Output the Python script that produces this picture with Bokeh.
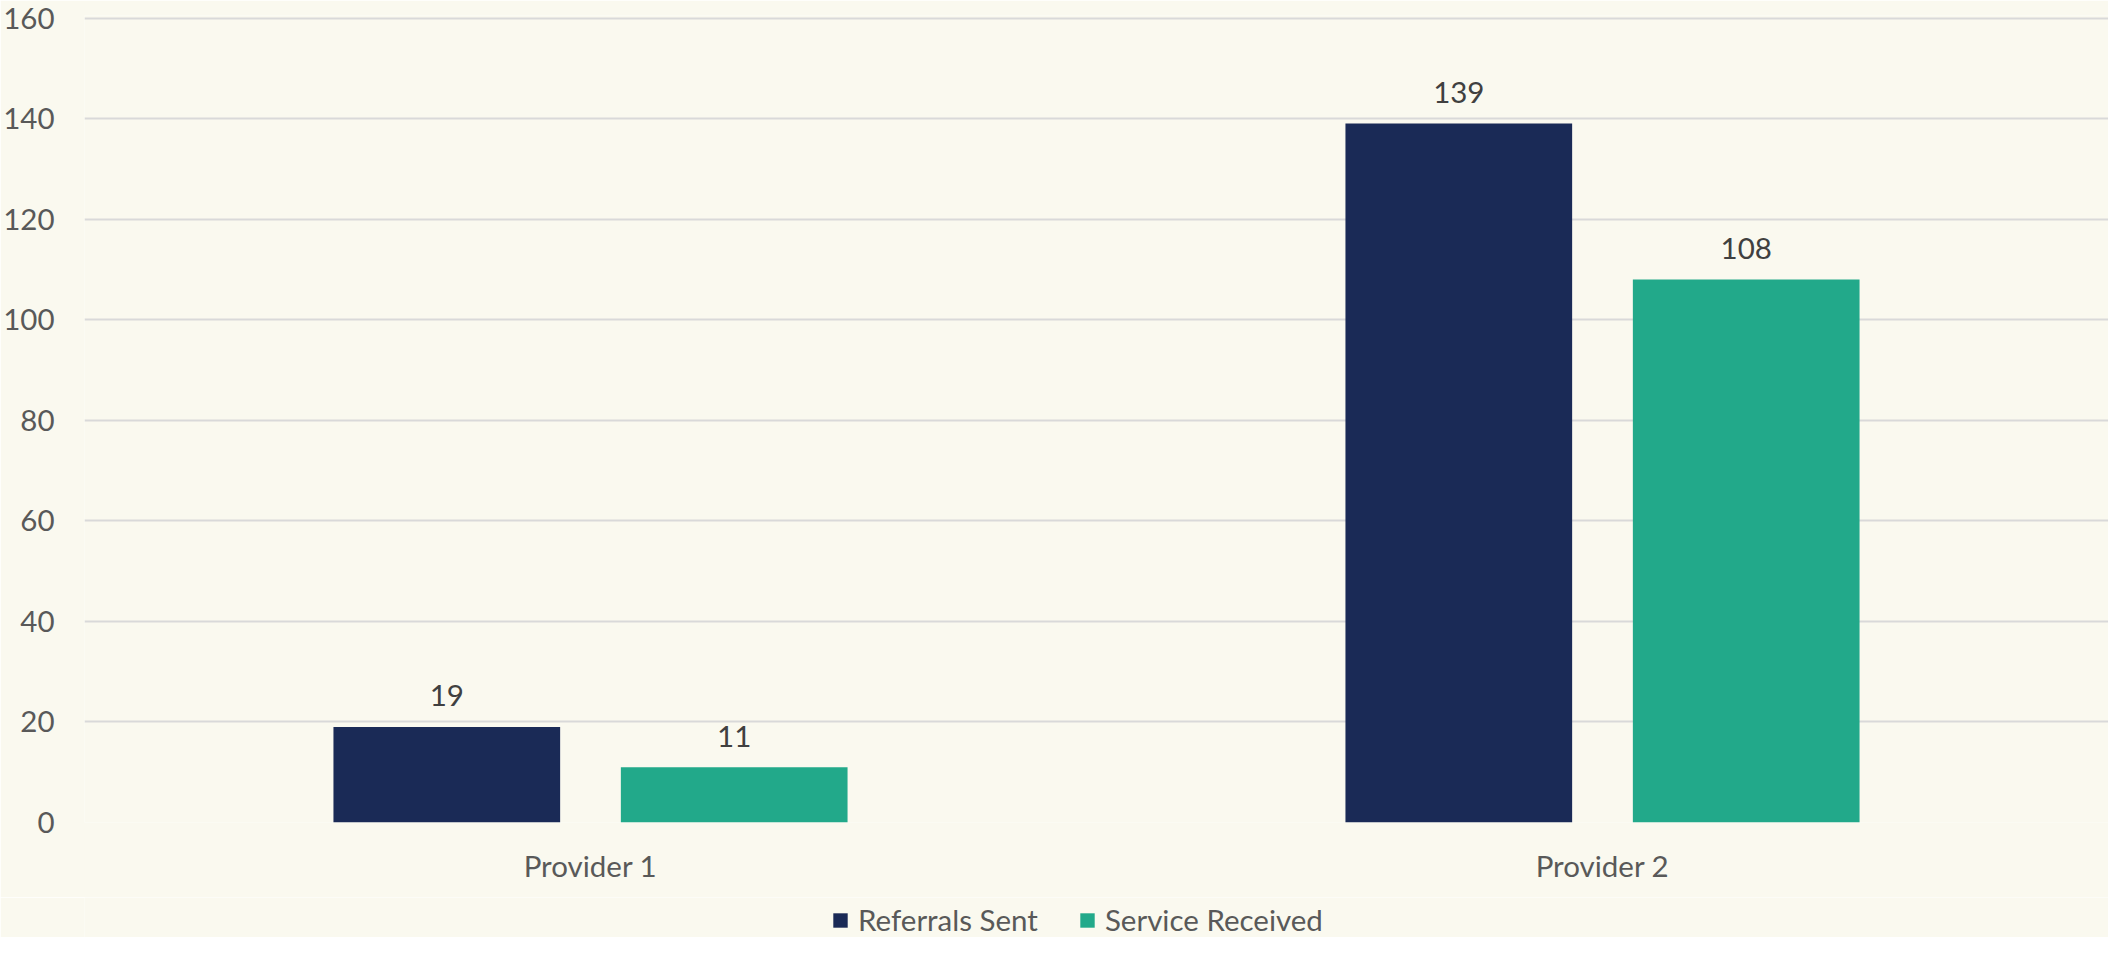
from bokeh.plotting import figure
from bokeh.layouts import column
from bokeh.models import (FactorRange, Range1d, FixedTicker, ColumnDataSource,
                          Legend, LegendItem)
from bokeh.transform import dodge
from bokeh.core.properties import value
from bokeh.embed import file_html
from bokeh.resources import INLINE

categories = ["Provider 1", "Provider 2"]
referrals_sent = [19, 139]
service_received = [11, 108]
series_names = ["Referrals Sent", "Service Received"]
y_ticks = [0, 20, 40, 60, 80, 100, 120, 140, 160]

BG = "#FAF9EF"
NAVY = "#1A2A56"
TEAL = "#22A98A"
FONT = "Lato"
FS = "29.5px"

src = ColumnDataSource(dict(
    cat=categories,
    sent=referrals_sent,
    recv=service_received,
    sent_lbl=[str(v) for v in referrals_sent],
    recv_lbl=[str(v) for v in service_received],
))

p = figure(width=2108, height=897, x_range=FactorRange(*categories, range_padding=0),
           y_range=Range1d(0, 160.5), output_backend="svg", toolbar_location=None,
           background_fill_color=BG, border_fill_color=BG,
           min_border_top=15, min_border_left=74, min_border_right=0, min_border_bottom=75)
p.outline_line_color = None

r1 = p.vbar(x=dodge("cat", -0.142, range=p.x_range), top="sent", width=0.224,
            source=src, fill_color=NAVY, line_color=None)
r2 = p.vbar(x=dodge("cat", 0.142, range=p.x_range), top="recv", width=0.224,
            source=src, fill_color=TEAL, line_color=None)

p.text(x=dodge("cat", -0.142, range=p.x_range), y="sent", text="sent_lbl", source=src,
       text_align="center", text_baseline="middle", y_offset=-31,
       text_font=value(FONT), text_font_size=FS, text_color="#404040")
p.text(x=dodge("cat", 0.142, range=p.x_range), y="recv", text="recv_lbl", source=src,
       text_align="center", text_baseline="middle", y_offset=-31,
       text_font=value(FONT), text_font_size=FS, text_color="#404040")

p.yaxis.ticker = FixedTicker(ticks=y_ticks)
p.ygrid.ticker = FixedTicker(ticks=y_ticks)
p.xgrid.grid_line_color = None
p.ygrid.grid_line_color = "#D9D9D9"
p.ygrid.grid_line_width = 2

for ax in (p.xaxis, p.yaxis):
    ax.axis_line_color = None
    ax.major_tick_line_color = None
    ax.minor_tick_line_color = None
    ax.major_tick_out = 0
    ax.major_tick_in = 0
    ax.major_label_text_font = FONT
    ax.major_label_text_font_size = FS
    ax.major_label_text_color = "#595959"
p.yaxis.major_label_standoff = 30
p.xaxis.major_label_standoff = 25

# legend strip below the chart (key renderers hold no drawable values)
lg = figure(width=2108, height=40, output_backend="svg", toolbar_location=None,
            background_fill_color=BG, border_fill_color=BG,
            min_border=0, x_range=Range1d(0, 1), y_range=Range1d(0, 1))
lg.outline_line_color = None
lg.axis.visible = False
lg.grid.visible = False
keysrc = ColumnDataSource(dict(x=[float("nan")], top=[float("nan")]))
k1 = lg.vbar(x="x", top="top", width=0.1, source=keysrc, fill_color=NAVY, line_color=None)
k2 = lg.vbar(x="x", top="top", width=0.1, source=keysrc, fill_color=TEAL, line_color=None)
legend = Legend(items=[LegendItem(label=series_names[0], renderers=[k1]),
                       LegendItem(label=series_names[1], renderers=[k2])],
                orientation="horizontal", location=(747, 0),
                background_fill_alpha=0, border_line_color=None,
                label_text_font=FONT, label_text_font_size=FS,
                label_text_color="#595959", glyph_width=18, glyph_height=18,
                label_standoff=9, spacing=40, padding=0, margin=0)
lg.add_layout(legend, "center")

layout = column(p, lg, spacing=0)
open("out.html", "w").write(file_html(layout, INLINE))
